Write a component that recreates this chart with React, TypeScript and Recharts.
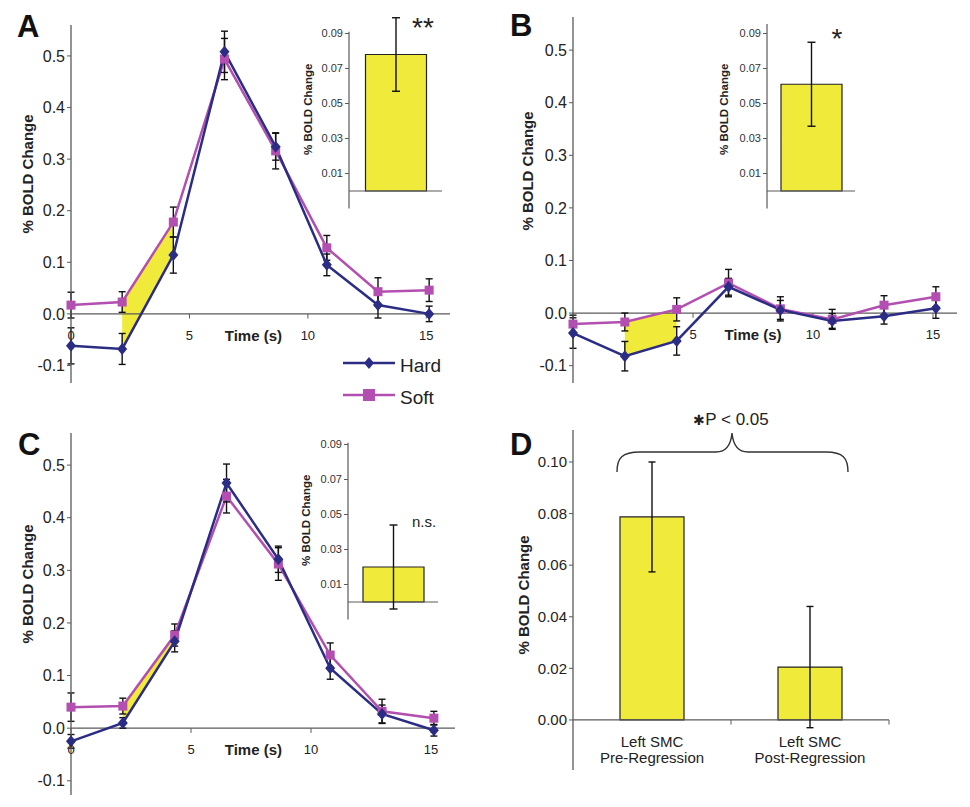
import React from 'react'
import {
  ComposedChart,
  Line,
  Area,
  Bar,
  XAxis,
  YAxis,
  ErrorBar,
  ReferenceLine,
  ReferenceDot,
  Label,
  LabelList,
} from 'recharts'

const HARD = '#2b2d84'
const SOFT = '#b34fb1'
const YELLOW = '#f0ea3a'
const AXIS = '#5a5a5a'
const INK = '#222'
const FONT = 'Arial, "Liberation Sans", Helvetica, sans-serif'

// time points (s)
const times = [0, 2.16, 4.32, 6.48, 8.64, 10.8, 12.96, 15.12]

// panel A
const hardA = [-0.062, -0.068, 0.114, 0.508, 0.324, 0.095, 0.017, 0.0]
const hardAErr = [0.035, 0.03, 0.035, 0.04, 0.026, 0.021, 0.025, 0.015]
const softA = [0.017, 0.023, 0.178, 0.494, 0.316, 0.128, 0.043, 0.046]
const softAErr = [0.025, 0.02, 0.029, 0.04, 0.035, 0.024, 0.027, 0.022]

// panel B
const hardB = [-0.038, -0.082, -0.053, 0.05, 0.006, -0.015, -0.006, 0.009]
const hardBErr = [0.029, 0.028, 0.027, 0.016, 0.018, 0.014, 0.015, 0.019]
const softB = [-0.021, -0.017, 0.007, 0.057, 0.008, -0.012, 0.015, 0.031]
const softBErr = [0.017, 0.017, 0.022, 0.026, 0.023, 0.019, 0.018, 0.019]

// panel C
const hardC = [-0.025, 0.01, 0.165, 0.466, 0.321, 0.114, 0.027, -0.004]
const hardCErr = [0.013, 0.01, 0.02, 0.036, 0.025, 0.021, 0.017, 0.011]
const softC = [0.04, 0.042, 0.177, 0.441, 0.312, 0.139, 0.032, 0.019]
const softCErr = [0.027, 0.015, 0.021, 0.032, 0.031, 0.023, 0.023, 0.013]

// interval where the hard/soft difference is shaded
const shadeIdx = [1, 2]

const yTicksMain = [-0.1, 0, 0.1, 0.2, 0.3, 0.4, 0.5]
const xTicksMain = [0, 5, 10, 15]

// insets (difference in shaded interval)
const insetValues = [0.078, 0.061, 0.02]
const insetErrors = [0.021, 0.024, 0.024]
const insetMarks = ['**', '*', 'n.s.']
const insetTicks = [0.01, 0.03, 0.05, 0.07, 0.09]

// panel D
const dCategories = [
  ['Left SMC', 'Pre-Regression'],
  ['Left SMC', 'Post-Regression'],
]
const dValues = [0.0787, 0.0205]
const dErrors = [0.0213, 0.0235]
const dTicks = [0, 0.02, 0.04, 0.06, 0.08, 0.1]

function buildRows(hard: number[], hardErr: number[], soft: number[], softErr: number[]) {
  return times.map((t, i) => ({
    t,
    hard: hard[i],
    hardErr: hardErr[i],
    soft: soft[i],
    softErr: softErr[i],
    shade: shadeIdx.includes(i) ? [hard[i], soft[i]] : null,
  }))
}

function VLabel({ viewBox, value, dx = 0, dy = 0, size = 15 }: any) {
  const vb = viewBox || { x: 0, y: 0, width: 0, height: 0 }
  const cx = vb.x + dx
  const cy = vb.y + vb.height / 2 + dy
  return (
    <text
      x={cx}
      y={cy}
      transform={`rotate(-90 ${cx} ${cy})`}
      textAnchor="middle"
      dominantBaseline="central"
      fontSize={size}
      fontWeight="bold"
      fill={INK}
      fontFamily={FONT}
    >
      {value}
    </text>
  )
}

const Diamond = (p: any) =>
  p.cx == null ? null : (
    <path
      key={p.index}
      d={`M${p.cx} ${p.cy - 6}L${p.cx + 5} ${p.cy}L${p.cx} ${p.cy + 6}L${p.cx - 5} ${p.cy}Z`}
      fill={HARD}
    />
  )

const Square = (p: any) =>
  p.cx == null ? null : (
    <rect key={p.index} x={p.cx - 4.5} y={p.cy - 4.5} width={9} height={9} fill={SOFT} />
  )

function TimeCourse({ rows, width, height, margin, yDomain, tickLabels, timeX, labelDx, labelDy }: any) {
  return (
    <ComposedChart width={width} height={height} data={rows} margin={margin}>
      <XAxis type="number" dataKey="t" domain={[0, 16]} hide />
      <YAxis
        type="number"
        domain={yDomain}
        allowDataOverflow
        ticks={yTicksMain}
        interval={0}
        width={50}
        tickSize={4}
        tickFormatter={(v: number) => v.toFixed(1)}
        tick={{ fontSize: 16, fill: INK }}
        axisLine={{ stroke: AXIS, strokeWidth: 1.3 }}
        tickLine={{ stroke: AXIS }}
      >
        <Label
          content={(p: any) => (
            <VLabel viewBox={p.viewBox} value="% BOLD Change" dx={labelDx} dy={labelDy} size={15} />
          )}
        />
      </YAxis>
      <Area
        dataKey="shade"
        type="linear"
        fill={YELLOW}
        fillOpacity={1}
        stroke="none"
        connectNulls={false}
        isAnimationActive={false}
      />
      <ReferenceLine y={0} stroke={AXIS} strokeWidth={1.3} />
      {xTicksMain.map((t) => (
        <ReferenceLine
          key={t}
          segment={[
            { x: t, y: 0 },
            { x: t, y: -0.009 },
          ]}
          stroke={AXIS}
          label={
            tickLabels.includes(t)
              ? { value: String(t), position: 'bottom', offset: 12, fontSize: 13, fill: INK }
              : undefined
          }
        />
      ))}
      <ReferenceDot
        x={timeX}
        y={0}
        r={0}
        fill="none"
        stroke="none"
        label={{ value: 'Time (s)', position: 'bottom', offset: 16, fontSize: 15, fontWeight: 'bold', fill: INK }}
      />
      <Line
        dataKey="soft"
        type="linear"
        stroke={SOFT}
        strokeWidth={2.5}
        dot={Square}
        activeDot={false}
        isAnimationActive={false}
      >
        <ErrorBar dataKey="softErr" direction="y" width={3.5} stroke="#111" strokeWidth={1.4} />
      </Line>
      <Line
        dataKey="hard"
        type="linear"
        stroke={HARD}
        strokeWidth={2.5}
        dot={Diamond}
        activeDot={false}
        isAnimationActive={false}
      >
        <ErrorBar dataKey="hardErr" direction="y" width={3.5} stroke="#111" strokeWidth={1.4} />
      </Line>
    </ComposedChart>
  )
}

function Inset({ value, err, plotW, axisTop, labelDx }: any) {
  const rows = [{ x: 0.5, value, err }]
  return (
    <ComposedChart width={59 + plotW + 13} height={215} data={rows} margin={{ top: 16, right: 13, bottom: 6.5, left: 14 }}>
      <XAxis type="number" dataKey="x" domain={[0, 1]} hide />
      <YAxis
        type="number"
        domain={[-0.01, 0.1]}
        allowDataOverflow
        ticks={insetTicks}
        interval={0}
        width={45}
        tickSize={4}
        tickFormatter={(v: number) => v.toFixed(2)}
        tick={{ fontSize: 11, fill: '#333' }}
        axisLine={false}
        tickLine={{ stroke: AXIS }}
      >
        <Label
          content={(p: any) => (
            <VLabel viewBox={p.viewBox} value="% BOLD Change" dx={labelDx} dy={-3} size={11.5} />
          )}
        />
      </YAxis>
      <ReferenceLine
        segment={[
          { x: 0, y: -0.01 },
          { x: 0, y: axisTop },
        ]}
        stroke={AXIS}
        strokeWidth={1.2}
        ifOverflow="visible"
      />
      <ReferenceLine y={0} stroke={AXIS} strokeWidth={1.2} />
      <Bar dataKey="value" barSize={61} fill={YELLOW} stroke="#222" strokeWidth={1.2} isAnimationActive={false}>
        <ErrorBar dataKey="err" direction="y" width={4} stroke="#111" strokeWidth={1.4} />
      </Bar>
    </ComposedChart>
  )
}

function CategoryTick(props: any) {
  const vb = props.viewBox || props
  const cx = vb.x + vb.width / 2
  const base = vb.y + vb.height
  const lines = dCategories[props.index] || []
  return (
    <text textAnchor="middle" fontSize={15} fill={INK} fontFamily={FONT}>
      <tspan x={cx} y={base + 27}>
        {lines[0]}
      </tspan>
      <tspan x={cx} y={base + 43}>
        {lines[1]}
      </tspan>
    </text>
  )
}

function PanelD() {
  const rows = dValues.map((v, i) => ({ x: i + 0.5, value: v, err: dErrors[i] }))
  return (
    <ComposedChart width={490} height={407} data={rows} margin={{ top: 30, right: 81, bottom: 37, left: 43 }}>
      <XAxis type="number" dataKey="x" domain={[0, 2]} hide />
      <YAxis
        type="number"
        domain={[-0.0194, 0.1124]}
        allowDataOverflow
        ticks={dTicks}
        interval={0}
        width={50}
        tickSize={4}
        tickFormatter={(v: number) => v.toFixed(2)}
        tick={{ fontSize: 15, fill: INK }}
        axisLine={{ stroke: AXIS, strokeWidth: 1.3 }}
        tickLine={{ stroke: AXIS }}
      >
        <Label
          content={(p: any) => (
            <VLabel viewBox={p.viewBox} value="% BOLD Change" dx={0} dy={-5} size={15} />
          )}
        />
      </YAxis>
      <ReferenceLine y={0} stroke={AXIS} strokeWidth={1.3} />
      {[1, 2].map((x) => (
        <ReferenceLine
          key={x}
          segment={[
            { x, y: 0 },
            { x, y: -0.0018 },
          ]}
          stroke={AXIS}
          ifOverflow="visible"
        />
      ))}
      <Bar dataKey="value" barSize={64} fill={YELLOW} stroke="#222" strokeWidth={1.2} isAnimationActive={false}>
        <ErrorBar dataKey="err" direction="y" width={3.5} stroke="#111" strokeWidth={1.4} />
        <LabelList dataKey="value" content={CategoryTick} />
      </Bar>
    </ComposedChart>
  )
}

const pos = (left: number, top: number): React.CSSProperties => ({ position: 'absolute', left, top })

export default function App() {
  return (
    <div
      style={{
        position: 'absolute',
        left: 0,
        top: 0,
        width: 970,
        height: 807,
        background: '#fff',
        fontFamily: FONT,
        overflow: 'hidden',
      }}
    >
      <div style={pos(0, 0)}>
        <TimeCourse
          rows={buildRows(hardA, hardAErr, softA, softAErr)}
          width={480}
          height={400}
          margin={{ top: 25, right: 30, bottom: 17, left: 21 }}
          yDomain={[-0.134, 0.56]}
          tickLabels={[0, 5, 10, 15]}
          timeX={7.7}
          labelDx={6}
          labelDy={-30}
        />
      </div>
      <div style={pos(480, 0)}>
        <TimeCourse
          rows={buildRows(hardB, hardBErr, softB, softBErr)}
          width={490}
          height={400}
          margin={{ top: 17, right: 13, bottom: 17, left: 43 }}
          yDomain={[-0.133, 0.563]}
          tickLabels={[5, 10, 15]}
          timeX={7.5}
          labelDx={4}
          labelDy={-29}
        />
      </div>
      <div style={pos(0, 400)}>
        <TimeCourse
          rows={buildRows(hardC, hardCErr, softC, softCErr)}
          width={480}
          height={407}
          margin={{ top: 33, right: 25, bottom: 12, left: 21 }}
          yDomain={[-0.127, 0.561]}
          tickLabels={[0, 5, 10, 15]}
          timeX={7.6}
          labelDx={6}
          labelDy={-30}
        />
      </div>
      <div style={pos(480, 400)}>
        <PanelD />
      </div>

      <div style={pos(290, 0)}>
        <Inset value={insetValues[0]} err={insetErrors[0]} plotW={93} axisTop={0.091} labelDx={4} />
      </div>
      <div style={pos(708, 0)}>
        <Inset value={insetValues[1]} err={insetErrors[1]} plotW={88} axisTop={0.0954} labelDx={2} />
      </div>
      <div style={pos(289, 411)}>
        <Inset value={insetValues[2]} err={insetErrors[2]} plotW={90} axisTop={0.091} labelDx={3} />
      </div>

      <svg width={970} height={807} style={{ position: 'absolute', left: 0, top: 0, pointerEvents: 'none' }} fontFamily={FONT}>
        <g fontSize={31} fontWeight="bold" fill="#111">
          <text x={17} y={37}>A</text>
          <text x={510} y={36}>B</text>
          <text x={18} y={455}>C</text>
          <text x={510} y={455}>D</text>
        </g>

        <g fill="#222">
          <text x={423} y={37} fontSize={28} textAnchor="middle">{insetMarks[0]}</text>
          <text x={837} y={48} fontSize={28} textAnchor="middle">{insetMarks[1]}</text>
          <text x={412} y={527} fontSize={15}>{insetMarks[2]}</text>
        </g>

        <g>
          <line x1={343} x2={395} y1={363} y2={363} stroke={HARD} strokeWidth={2.5} />
          <path d="M369 357L374 363L369 369L364 363Z" fill={HARD} />
          <text x={400} y={372} fontSize={19} fill={INK}>Hard</text>
          <line x1={343} x2={395} y1={395} y2={395} stroke={SOFT} strokeWidth={2.5} />
          <rect x={363} y={389} width={12} height={12} fill={SOFT} />
          <text x={400} y={404} fontSize={19} fill={INK}>Soft</text>
        </g>

        <path
          d="M617 472 C617 458 622 452 640 452 L716 452 C726 452 731 444 732 433 C733 444 738 452 748 452 L826 452 C843 452 848 458 848 472"
          fill="none"
          stroke="#333"
          strokeWidth={1.4}
        />
        <text x={731} y={425} textAnchor="middle" fill={INK}>
          <tspan fontSize={14}>✱</tspan>
          <tspan fontSize={17}>P &lt; 0.05</tspan>
        </text>
      </svg>
    </div>
  )
}
